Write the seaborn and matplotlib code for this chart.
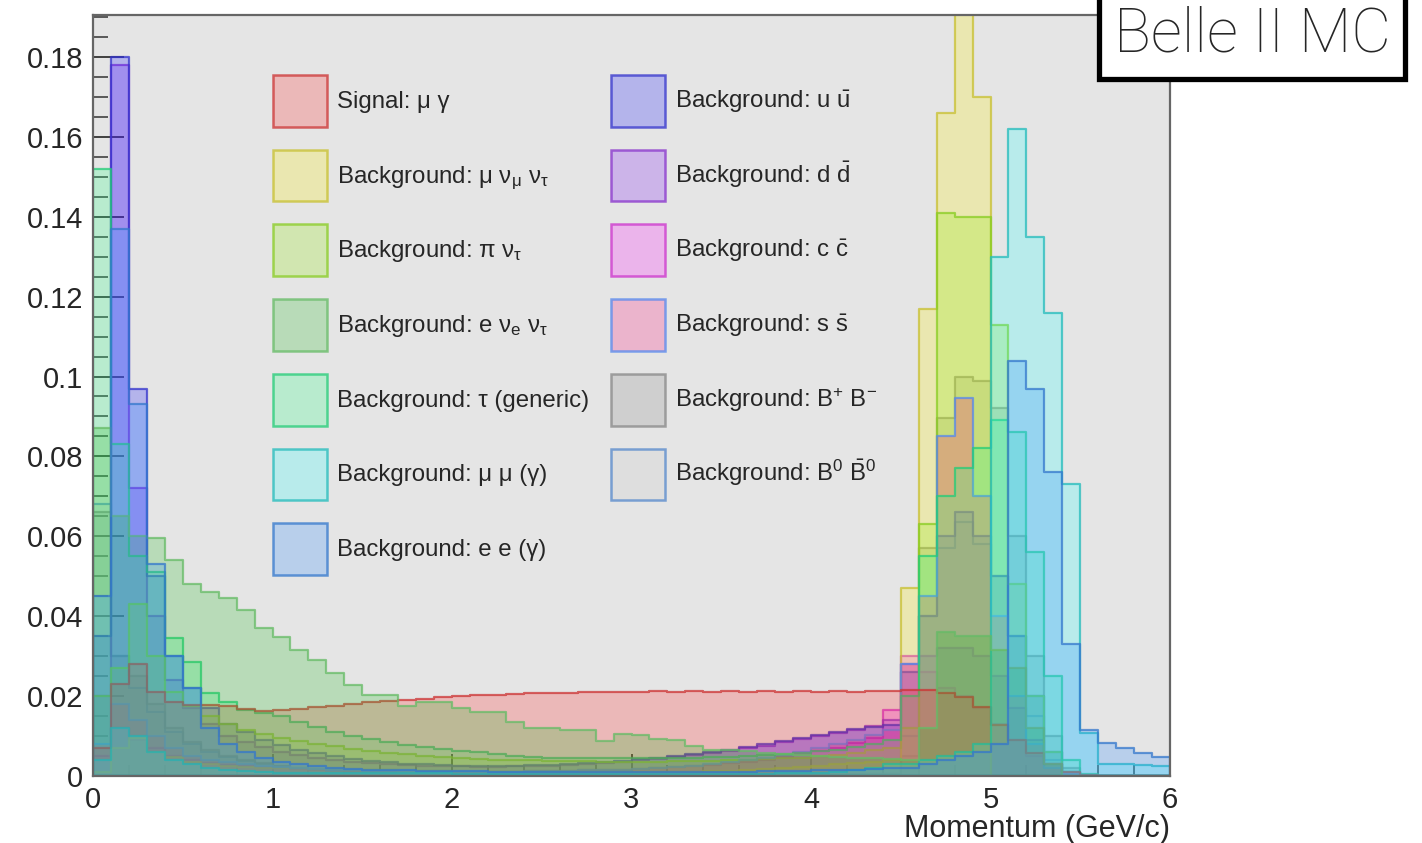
import numpy as np
import pandas as pd
import matplotlib
matplotlib.use("Agg")
import matplotlib.pyplot as plt
import seaborn as sns
from matplotlib.patches import Patch
from matplotlib.ticker import MultipleLocator, FuncFormatter

# ---------------- data (60 bins of 0.1 GeV/c, 0..6) ----------------
n_bins = 60
p_range = (0.0, 6.0)

signal = [0.007, 0.023, 0.028, 0.021, 0.0185, 0.0178, 0.0178, 0.0175, 0.0168, 0.0162,
          0.0165, 0.0168, 0.0172, 0.0176, 0.0180, 0.0184, 0.0188, 0.0191, 0.0194, 0.0197,
          0.0200, 0.0202, 0.0204, 0.0206, 0.0207, 0.0208, 0.0209, 0.0210, 0.0210, 0.0211,
          0.0211, 0.0212, 0.0211, 0.0212, 0.0211, 0.0212, 0.0211, 0.0212, 0.0211, 0.0212,
          0.0211, 0.0212, 0.0211, 0.0212, 0.0213, 0.0215, 0.0215, 0.0208, 0.0198, 0.0173,
          0.0128, 0.0090, 0.0058, 0.0030, 0.0010, 0.0002, 0.0, 0.0, 0.0, 0.0]

mu_nu_nu = [0.001, 0.007, 0.0095, 0.006, 0.0048, 0.0035, 0.003, 0.0026, 0.0023, 0.0021,
            0.0020, 0.0019, 0.0018, 0.0017, 0.0016, 0.0015, 0.0014, 0.0013, 0.0012, 0.0012,
            0.0011, 0.0011, 0.0010, 0.0010, 0.0010, 0.0010, 0.0010, 0.0010, 0.0010, 0.0010,
            0.0010, 0.0010, 0.0010, 0.0011, 0.0012, 0.0013, 0.0015, 0.0017, 0.0020, 0.0023,
            0.0026, 0.0030, 0.0033, 0.0036, 0.0040, 0.047, 0.117, 0.166, 0.215, 0.170,
            0.0, 0.0, 0.0, 0.0, 0.0, 0.0, 0.0, 0.0, 0.0, 0.0]

pi_nu = [0.020, 0.027, 0.043, 0.030, 0.021, 0.0175, 0.015, 0.013, 0.0115, 0.0105,
         0.0095, 0.0088, 0.0080, 0.0074, 0.0068, 0.0063, 0.0058, 0.0054, 0.0050, 0.0047,
         0.0045, 0.0043, 0.0041, 0.0040, 0.0039, 0.0038, 0.0037, 0.0037, 0.0036, 0.0036,
         0.0036, 0.0036, 0.0037, 0.0037, 0.0038, 0.0039, 0.0040, 0.0042, 0.0044, 0.0046,
         0.0049, 0.0053, 0.0058, 0.0064, 0.0070, 0.012, 0.063, 0.141, 0.140, 0.140,
         0.113, 0.048, 0.020, 0.006, 0.001, 0.0, 0.0, 0.0, 0.0, 0.0]

e_nu_nu = [0.087, 0.065, 0.060, 0.0596, 0.054, 0.048, 0.046, 0.0446, 0.0416, 0.037,
           0.0349, 0.0316, 0.029, 0.0258, 0.0228, 0.0203, 0.0203, 0.0175, 0.0185, 0.0185,
           0.017, 0.016, 0.016, 0.0135, 0.012, 0.012, 0.0115, 0.0115, 0.0088, 0.0105,
           0.0103, 0.0092, 0.009, 0.0075, 0.0065, 0.0065, 0.0062, 0.0058, 0.0055, 0.0052,
           0.0050, 0.0048, 0.0046, 0.0045, 0.0043, 0.0040, 0.012, 0.036, 0.035, 0.035,
           0.0316, 0.027, 0.012, 0.003, 0.0, 0.0, 0.0, 0.0, 0.0, 0.0]

tau_generic = [0.152, 0.083, 0.055, 0.051, 0.0345, 0.0285, 0.0207, 0.0185, 0.0165, 0.0157,
               0.0150, 0.0135, 0.0122, 0.0110, 0.0100, 0.0092, 0.0085, 0.0078, 0.0072, 0.0068,
               0.0063, 0.0059, 0.0055, 0.0051, 0.0048, 0.0046, 0.0045, 0.0044, 0.0044, 0.0044,
               0.0044, 0.0045, 0.0045, 0.0046, 0.0047, 0.0048, 0.0050, 0.0052, 0.0055, 0.0058,
               0.0062, 0.0066, 0.0072, 0.0080, 0.0090, 0.020, 0.055, 0.070, 0.077, 0.082,
               0.089, 0.086, 0.056, 0.025, 0.004, 0.0005, 0.0, 0.0, 0.0, 0.0]

mu_mu = [0.004, 0.012, 0.010, 0.006, 0.004, 0.003, 0.002, 0.0015, 0.0012, 0.0010,
         0.0008, 0.0008, 0.0008, 0.0008, 0.0008, 0.0007, 0.0007, 0.0007, 0.0007, 0.0007,
         0.0006, 0.0006, 0.0006, 0.0006, 0.0006, 0.0005, 0.0005, 0.0005, 0.0005, 0.0005,
         0.0005, 0.0005, 0.0005, 0.0005, 0.0005, 0.0006, 0.0006, 0.0006, 0.0007, 0.0007,
         0.0008, 0.0010, 0.0015, 0.0020, 0.0030, 0.0030, 0.0040, 0.0050, 0.0060, 0.0080,
         0.130, 0.162, 0.135, 0.116, 0.073, 0.0108, 0.003, 0.003, 0.0028, 0.0026]

e_e = [0.045, 0.137, 0.093, 0.053, 0.030, 0.022, 0.012, 0.008, 0.006, 0.0045,
       0.0035, 0.0030, 0.0025, 0.0020, 0.0018, 0.0016, 0.0015, 0.0014, 0.0013, 0.0012,
       0.0012, 0.0012, 0.0011, 0.0011, 0.0011, 0.0010, 0.0010, 0.0010, 0.0010, 0.0010,
       0.0010, 0.0010, 0.0010, 0.0010, 0.0010, 0.0011, 0.0011, 0.0012, 0.0012, 0.0013,
       0.0014, 0.0015, 0.0016, 0.0018, 0.0020, 0.0020, 0.0030, 0.0040, 0.0050, 0.0060,
       0.008, 0.104, 0.097, 0.076, 0.033, 0.0115, 0.0083, 0.0070, 0.0058, 0.0048]

u_ubar = [0.035, 0.180, 0.097, 0.050, 0.030, 0.022, 0.017, 0.013, 0.011, 0.009,
          0.0078, 0.0066, 0.0057, 0.0049, 0.0043, 0.0038, 0.0034, 0.0031, 0.0029, 0.0027,
          0.0026, 0.0025, 0.0025, 0.0026, 0.0027, 0.0028, 0.0030, 0.0032, 0.0035, 0.0038,
          0.0042, 0.0046, 0.0050, 0.0055, 0.0060, 0.0066, 0.0072, 0.0079, 0.0087, 0.0095,
          0.0103, 0.0110, 0.0117, 0.0123, 0.0128, 0.026, 0.040, 0.060, 0.066, 0.060,
          0.050, 0.035, 0.020, 0.006, 0.001, 0.0, 0.0, 0.0, 0.0, 0.0]

d_dbar = [0.020, 0.178, 0.072, 0.040, 0.024, 0.017, 0.013, 0.010, 0.0085, 0.0072,
          0.0060, 0.0052, 0.0045, 0.0040, 0.0036, 0.0033, 0.0030, 0.0028, 0.0026, 0.0025,
          0.0024, 0.0023, 0.0023, 0.0024, 0.0025, 0.0026, 0.0028, 0.0030, 0.0033, 0.0036,
          0.0039, 0.0043, 0.0047, 0.0052, 0.0057, 0.0063, 0.0069, 0.0076, 0.0084, 0.0092,
          0.0099, 0.0107, 0.0115, 0.0124, 0.0140, 0.028, 0.030, 0.032, 0.032, 0.030,
          0.025, 0.017, 0.009, 0.003, 0.0005, 0.0, 0.0, 0.0, 0.0, 0.0]

c_cbar = [0.005, 0.012, 0.009, 0.007, 0.005, 0.004, 0.0033, 0.0028, 0.0024, 0.0021,
          0.0019, 0.0017, 0.0015, 0.0014, 0.0013, 0.0012, 0.0012, 0.0011, 0.0011, 0.0011,
          0.0011, 0.0011, 0.0011, 0.0011, 0.0012, 0.0012, 0.0013, 0.0014, 0.0015, 0.0016,
          0.0018, 0.0020, 0.0022, 0.0025, 0.0028, 0.0032, 0.0036, 0.0041, 0.0047, 0.0054,
          0.0062, 0.0071, 0.0082, 0.0094, 0.0165, 0.030, 0.026, 0.022, 0.020, 0.017,
          0.013, 0.009, 0.005, 0.002, 0.0005, 0.0, 0.0, 0.0, 0.0, 0.0]

s_sbar = [0.008, 0.018, 0.014, 0.010, 0.007, 0.005, 0.004, 0.0034, 0.0029, 0.0025,
          0.0022, 0.0019, 0.0017, 0.0015, 0.0014, 0.0013, 0.0012, 0.0012, 0.0011, 0.0011,
          0.0011, 0.0011, 0.0011, 0.0011, 0.0012, 0.0012, 0.0013, 0.0014, 0.0015, 0.0016,
          0.0018, 0.0020, 0.0023, 0.0026, 0.0030, 0.0034, 0.0039, 0.0045, 0.0052, 0.0060,
          0.0069, 0.0079, 0.0090, 0.0102, 0.0115, 0.028, 0.045, 0.085, 0.0946, 0.070,
          0.040, 0.020, 0.008, 0.002, 0.0005, 0.0, 0.0, 0.0, 0.0, 0.0]

b_plus_minus = [0.066, 0.030, 0.025, 0.018, 0.012, 0.0085, 0.0065, 0.0050, 0.0040, 0.0032,
                0.0026, 0.0021, 0.0017, 0.0014, 0.0012, 0.0010, 0.0009, 0.0008, 0.0007, 0.0006,
                0.0005, 0.0005, 0.0005, 0.0005, 0.0005, 0.0005, 0.0005, 0.0005, 0.0005, 0.0005,
                0.0005, 0.0005, 0.0005, 0.0005, 0.0005, 0.0005, 0.0005, 0.0005, 0.0005, 0.0005,
                0.0005, 0.0005, 0.0005, 0.0005, 0.0005, 0.005, 0.057, 0.0896, 0.100, 0.099,
                0.092, 0.060, 0.030, 0.010, 0.002, 0.0, 0.0, 0.0, 0.0, 0.0]

b0_b0bar = [0.068, 0.030, 0.022, 0.016, 0.011, 0.008, 0.006, 0.0048, 0.0038, 0.0030,
            0.0024, 0.0019, 0.0016, 0.0013, 0.0011, 0.0009, 0.0008, 0.0007, 0.0006, 0.0006,
            0.0005, 0.0005, 0.0005, 0.0005, 0.0005, 0.0005, 0.0005, 0.0005, 0.0005, 0.0005,
            0.0005, 0.0005, 0.0005, 0.0005, 0.0005, 0.0005, 0.0005, 0.0005, 0.0005, 0.0005,
            0.0005, 0.0005, 0.0005, 0.0005, 0.0005, 0.010, 0.040, 0.057, 0.0636, 0.058,
            0.050, 0.035, 0.015, 0.004, 0.001, 0.0, 0.0, 0.0, 0.0, 0.0]

labels = ["Signal: μ γ",
          r"Background: μ ν$_{\mu}$ ν$_{\tau}$",
          r"Background: π ν$_{\tau}$",
          r"Background: e ν$_{e}$ ν$_{\tau}$",
          "Background: τ (generic)",
          "Background: μ μ (γ)",
          "Background: e e (γ)",
          r"Background: u $\bar{\mathrm{u}}$",
          r"Background: d $\bar{\mathrm{d}}$",
          r"Background: c $\bar{\mathrm{c}}$",
          r"Background: s $\bar{\mathrm{s}}$",
          r"Background: B$^{+}$ B$^{-}$",
          r"Background: B$^{0}$ $\bar{\mathrm{B}}^{0}$"]

fill_colors = ["#ff3232", "#faf014", "#96eb14", "#32be32", "#32ff8c", "#32ffff", "#3291ff",
               "#2323ff", "#8223f5", "#ff23ff", "#ff2382", "#919191", "#cdcdcd"]
edge_colors = ["#cc3333", "#c8c030", "#88cc22", "#66bb66", "#22cc77", "#22bbbb", "#3377cc",
               "#3333cc", "#8833cc", "#cc33cc", "#5588ee", "#888888", "#5588cc"]

series_values = [signal, mu_nu_nu, pi_nu, e_nu_nu, tau_generic, mu_mu, e_e,
                 u_ubar, d_dbar, c_cbar, s_sbar, b_plus_minus, b0_b0bar]

# order in which the layers are painted (indices into labels)
paint_order = [12, 11, 9, 8, 7, 1, 2, 10, 4, 0, 5, 3, 6]

bin_edges = np.linspace(p_range[0], p_range[1], n_bins + 1)
centers = (bin_edges[:-1] + bin_edges[1:]) / 2
frames = []
for lab, vals in zip(labels, series_values):
    frames.append(pd.DataFrame({"p": centers, "w": np.asarray(vals, dtype=float), "sample": lab}))
df = pd.concat(frames, ignore_index=True)

# ---------------- style ----------------
sns.set_style("ticks")
plt.rcParams["font.family"] = ["Liberation Sans", "DejaVu Sans"]
plt.rcParams["mathtext.fontset"] = "custom"
plt.rcParams["mathtext.rm"] = "Liberation Sans"
plt.rcParams["mathtext.it"] = "Liberation Sans"
plt.rcParams["mathtext.bf"] = "Liberation Sans:bold"

fig = plt.figure(figsize=(14.22, 8.43), dpi=100)
ax = fig.add_axes([93 / 1422, 1 - 776 / 843, 1077 / 1422, 761 / 843])
ax.set_facecolor("#e5e5e5")

ALPHA = 0.25
EDGE_ALPHA = 0.75
for i in paint_order:
    lab, fc, ec = labels[i], fill_colors[i], edge_colors[i]
    sub = df[df["sample"] == lab].reset_index(drop=True)
    sns.histplot(data=sub, x="p", weights="w", bins=n_bins, binrange=p_range,
                 element="step", fill=True,
                 facecolor=matplotlib.colors.to_rgba(fc, ALPHA),
                 edgecolor=matplotlib.colors.to_rgba(ec, EDGE_ALPHA), linewidth=1.6,
                 ax=ax, legend=False)

ax.set_xlim(0, 6)
ax.set_ylim(0, 0.1905)
ax.set_ylabel("")
ax.set_xlabel("Momentum (GeV/c)", fontsize=22, loc="right")
ax.xaxis.set_label_coords(1.0, -0.069)
ax.xaxis.label.set_va("center")

ax.xaxis.set_major_locator(MultipleLocator(1))
ax.xaxis.set_minor_locator(MultipleLocator(0.2))
ax.yaxis.set_major_locator(MultipleLocator(0.02))
ax.yaxis.set_minor_locator(MultipleLocator(0.005))
ax.yaxis.set_major_formatter(FuncFormatter(lambda v, _: "0" if abs(v) < 1e-9 else f"{v:g}"))
ax.xaxis.set_major_formatter(FuncFormatter(lambda v, _: f"{v:g}"))

ax.tick_params(axis="y", which="major", direction="in", length=22, width=1.3,
               color="#333333", labelsize=21, pad=7)
ax.tick_params(axis="y", which="minor", direction="in", length=11, width=1.1, color="#333333")
ax.tick_params(axis="x", which="major", direction="in", length=16, width=1.3,
               color="#333333", labelsize=21, pad=7)
ax.tick_params(axis="x", which="minor", direction="in", length=8, width=1.1, color="#333333")
for s in ax.spines.values():
    s.set_color("#666666")
    s.set_linewidth(1.6)

# legend
handles = [Patch(facecolor=matplotlib.colors.to_rgba(fc, ALPHA),
                 edgecolor=matplotlib.colors.to_rgba(ec, EDGE_ALPHA), linewidth=1.8)
           for fc, ec in zip(fill_colors, edge_colors)]
ax.legend(handles, labels, ncol=2, loc="upper left",
          bbox_to_anchor=((273 - 93) / 1077, (776 - 75) / 761),
          frameon=False, fontsize=17.3, handlelength=2.25, handleheight=2.93,
          handletextpad=0.42, labelspacing=0.96, columnspacing=0.9,
          borderpad=0, borderaxespad=0)

fig.text(1252 / 1422, 1 - 35 / 843, "Belle II MC", fontsize=44,
         family=["Roboto", "Liberation Sans"], fontweight="light",
         ha="center", va="center",
         bbox=dict(boxstyle="square,pad=0.24", facecolor="white",
                   edgecolor="black", linewidth=3.8))

fig.savefig("out.png", dpi=100)
